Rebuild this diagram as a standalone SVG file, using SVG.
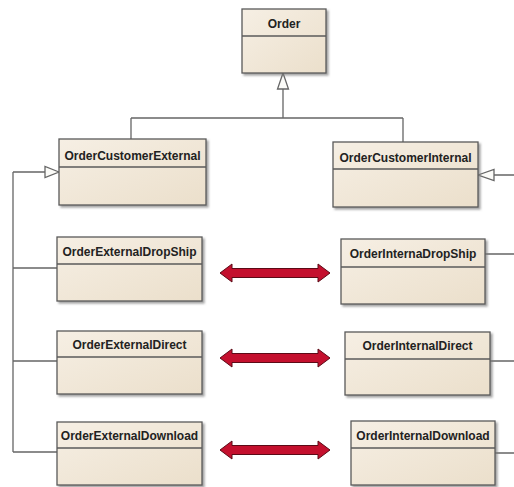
<svg xmlns="http://www.w3.org/2000/svg" width="514" height="487" viewBox="0 0 514 487">
  <defs>
    <linearGradient id="boxFill" x1="0" y1="0" x2="1" y2="1">
      <stop offset="0" stop-color="#f6efe4"/>
      <stop offset="1" stop-color="#ebdfcb"/>
    </linearGradient>
    <linearGradient id="headFill" x1="0" y1="0" x2="0" y2="1">
      <stop offset="0" stop-color="#f5eee3"/>
      <stop offset="1" stop-color="#eee4d4"/>
    </linearGradient>
    <filter id="shadow" x="-10%" y="-10%" width="125%" height="130%">
      <feDropShadow dx="2" dy="2" stdDeviation="1.2" flood-color="#7a7a7a" flood-opacity="0.7"/>
    </filter>
  </defs>
  <style>
    .box { fill: url(#boxFill); stroke: #5a5a5a; stroke-width: 1.3; filter: url(#shadow); }
    .div { stroke: #5a5a5a; stroke-width: 1.3; }
    .name { font-family: "Liberation Sans", Arial, sans-serif; font-weight: bold; font-size: 12px; fill: #222; text-anchor: middle; }
    .link { fill: none; stroke: #666; stroke-width: 1.3; }
    .tri { fill: #fbfbf8; stroke: #666; stroke-width: 1.3; }
    .dbl { fill: #c4102e; stroke: #5c0a16; stroke-width: 1; }
  </style>

  <rect width="514" height="487" fill="#ffffff"/>

  <!-- inheritance connectors -->
  <g id="connectors">
    <path class="link" d="M283,89 V118 M131,118 H403 M131,118 V139 M403,118 V142"/>
    <polygon class="tri" points="283,73 277.5,89 288.5,89"/>
    <path class="link" d="M13,172 H45 M13,172 V452 M13,268 H57 M13,361 H57 M13,452 H57"/>
    <polygon class="tri" points="59,172 45,166.5 45,177.5"/>
    <path class="link" d="M494,175 H514 M485,254 H514 M490,361 H514 M495,453 H514"/>
    <polygon class="tri" points="478,175 494,169.5 494,180.5"/>
  </g>

  <!-- classes -->
  <g id="order">
    <rect class="box" x="242" y="9" width="84" height="64"/>
    <line class="div" x1="242" y1="36" x2="326" y2="36"/>
    <text class="name" x="284" y="28">Order</text>
  </g>
  <g id="orderCustomerExternal">
    <rect class="box" x="59" y="139" width="147" height="66"/>
    <line class="div" x1="59" y1="167" x2="206" y2="167"/>
    <text class="name" x="132.5" y="160">OrderCustomerExternal</text>
  </g>
  <g id="orderCustomerInternal">
    <rect class="box" x="333" y="142" width="145" height="65"/>
    <line class="div" x1="333" y1="169" x2="478" y2="169"/>
    <text class="name" x="405.5" y="162">OrderCustomerInternal</text>
  </g>
  <g id="orderExternalDropShip">
    <rect class="box" x="57" y="237" width="145" height="64"/>
    <line class="div" x1="57" y1="264" x2="202" y2="264"/>
    <text class="name" x="129.5" y="256">OrderExternalDropShip</text>
  </g>
  <g id="orderInternaDropShip">
    <rect class="box" x="341" y="239" width="144" height="65"/>
    <line class="div" x1="341" y1="267" x2="485" y2="267"/>
    <text class="name" x="413" y="258">OrderInternaDropShip</text>
  </g>
  <g id="orderExternalDirect">
    <rect class="box" x="57" y="331" width="145" height="63"/>
    <line class="div" x1="57" y1="357" x2="202" y2="357"/>
    <text class="name" x="129.5" y="349">OrderExternalDirect</text>
  </g>
  <g id="orderInternalDirect">
    <rect class="box" x="345" y="332" width="145" height="63"/>
    <line class="div" x1="345" y1="359" x2="490" y2="359"/>
    <text class="name" x="417.5" y="350">OrderInternalDirect</text>
  </g>
  <g id="orderExternalDownload">
    <rect class="box" x="57" y="422" width="145" height="63"/>
    <line class="div" x1="57" y1="448" x2="202" y2="448"/>
    <text class="name" x="129.5" y="440">OrderExternalDownload</text>
  </g>
  <g id="orderInternalDownload">
    <rect class="box" x="351" y="421" width="144" height="64"/>
    <line class="div" x1="351" y1="448" x2="495" y2="448"/>
    <text class="name" x="423" y="440">OrderInternalDownload</text>
  </g>

  <!-- correspondence arrows -->
  <g id="mappings">
    <path class="dbl" d="M220,273 L232,264 L232,268.5 L318,268.5 L318,264 L330,273 L318,282 L318,277.5 L232,277.5 L232,282 Z"/>
    <path class="dbl" d="M220,358 L232,349 L232,353.5 L318,353.5 L318,349 L330,358 L318,367 L318,362.5 L232,362.5 L232,367 Z"/>
    <path class="dbl" d="M220,450 L232,441 L232,445.5 L318,445.5 L318,441 L330,450 L318,459 L318,454.5 L232,454.5 L232,459 Z"/>
  </g>
</svg>
